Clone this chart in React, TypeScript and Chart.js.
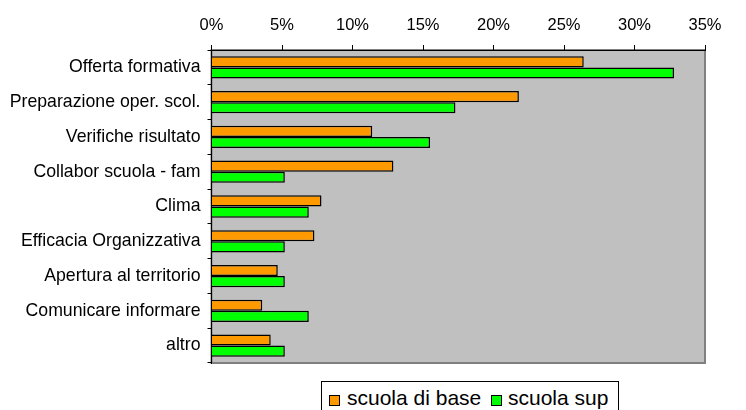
import React, { useEffect, useRef } from "react";
import { Chart, registerables } from "chart.js";

Chart.register(...registerables);

const categories = [
  "Offerta formativa",
  "Preparazione oper. scol.",
  "Verifiche risultato",
  "Collabor scuola - fam",
  "Clima",
  "Efficacia Organizzativa",
  "Apertura al territorio",
  "Comunicare informare",
  "altro",
];
const scuolaDiBase = [26.4, 21.8, 11.4, 12.9, 7.8, 7.3, 4.7, 3.6, 4.2];
const scuolaSup = [32.8, 17.3, 15.5, 5.2, 6.9, 5.2, 5.2, 6.9, 5.2];
const xTicks = [0, 5, 10, 15, 20, 25, 30, 35];
const seriesNames = ["scuola di base", "scuola sup"];
const seriesColors = ["#FF9900", "#00FF00"];

const FONT = "'Liberation Sans', Arial, sans-serif";

const plotBg = {
  id: "plotBg",
  beforeDraw(chart: any) {
    const { ctx, chartArea } = chart;
    const { left, top, right, bottom } = chartArea;
    ctx.save();
    ctx.fillStyle = "#C0C0C0";
    ctx.fillRect(left, top, right - left, bottom - top);
    ctx.strokeStyle = "#808080";
    ctx.lineWidth = 2;
    ctx.strokeRect(left, top, right - left, bottom - top);
    ctx.restore();
  },
};

export default function App() {
  const ref = useRef<HTMLCanvasElement | null>(null);

  useEffect(() => {
    if (!ref.current) return;
    const chart = new Chart(ref.current, {
      type: "bar",
      data: {
        labels: categories,
        datasets: [
          {
            label: seriesNames[0],
            data: scuolaDiBase,
            backgroundColor: seriesColors[0],
            borderColor: "#000",
            borderWidth: 1.5,
            barPercentage: 1,
            categoryPercentage: 0.64,
          },
          {
            label: seriesNames[1],
            data: scuolaSup,
            backgroundColor: seriesColors[1],
            borderColor: "#000",
            borderWidth: 1.5,
            barPercentage: 1,
            categoryPercentage: 0.64,
          },
        ],
      },
      options: {
        indexAxis: "y",
        responsive: false,
        animation: false,
        devicePixelRatio: 1,
        layout: { padding: { left: 0, right: 41, top: 0, bottom: 47 } },
        plugins: {
          legend: { display: false },
          tooltip: { enabled: false },
        },
        scales: {
          x: {
            position: "top",
            min: 0,
            max: 35,
            afterBuildTicks: (s: any) => {
              s.ticks = xTicks.map((v) => ({ value: v }));
            },
            afterFit: (s: any) => {
              s.height = 50;
            },
            ticks: {
              callback: (v: any) => v + "%",
              color: "#000",
              font: { family: FONT, size: 16.5 },
              padding: 10,
              maxRotation: 0,
              autoSkip: false,
            },
            grid: {
              drawOnChartArea: false,
              drawTicks: true,
              tickLength: 5,
              color: "#000",
            },
            border: { display: true, color: "#000", width: 1 },
          },
          y: {
            afterFit: (s: any) => {
              s.width = 211.5;
            },
            ticks: {
              color: "#000",
              font: { family: FONT, size: 17.7 },
              padding: 7,
              autoSkip: false,
            },
            grid: {
              drawOnChartArea: false,
              drawTicks: true,
              tickLength: 4,
              color: "#000",
              offset: true,
            },
            border: { display: true, color: "#000", width: 1 },
          },
        },
      },
      plugins: [plotBg],
    } as any);
    return () => chart.destroy();
  }, []);

  const sq = (left: number, color: string): React.CSSProperties => ({
    position: "absolute",
    left,
    top: 395,
    width: 9,
    height: 9,
    background: color,
    border: "1px solid #000",
  });
  const txt = (left: number): React.CSSProperties => ({
    position: "absolute",
    left,
    top: 387,
    fontFamily: FONT,
    fontSize: 21,
    lineHeight: "21px",
    color: "#000",
    whiteSpace: "nowrap",
  });

  return (
    <div
      style={{
        position: "fixed",
        left: 0,
        top: 0,
        width: 746,
        height: 410,
        background: "#fff",
        overflow: "hidden",
      }}
    >
      <canvas ref={ref} width={746} height={410} style={{ display: "block" }} />
      <div
        style={{
          position: "absolute",
          left: 321,
          top: 381,
          width: 296,
          height: 40,
          border: "1px solid #000",
          background: "#fff",
        }}
      />
      <div style={sq(329, seriesColors[0])} />
      <span style={txt(347)}>{seriesNames[0]}</span>
      <div style={sq(491, seriesColors[1])} />
      <span style={txt(508)}>{seriesNames[1]}</span>
    </div>
  );
}
